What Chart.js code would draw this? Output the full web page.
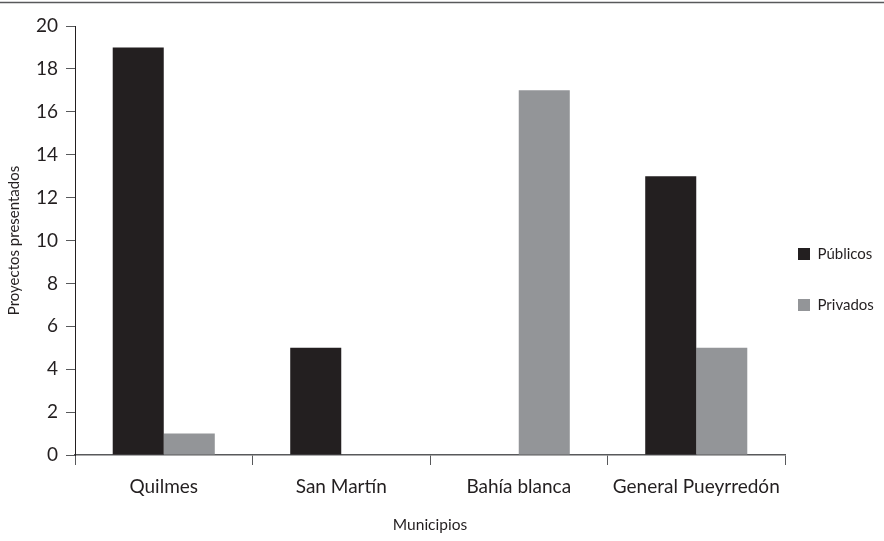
<!DOCTYPE html>
<html>
<head>
<meta charset="utf-8">
<script src="https://cdn.jsdelivr.net/npm/chart.js@4/dist/chart.umd.min.js"></script>
<style>
  html, body { margin: 0; padding: 0; background: #ffffff; }
  #wrap { width: 884px; height: 541px; }
</style>
</head>
<body>
<div id="wrap"><canvas id="chart" width="884" height="541"></canvas></div>
<script>
// Proyectos presentados por municipio
const municipios = ['Quilmes', 'San Martín', 'Bahía blanca', 'General Pueyrredón'];
const publicos = [19, 5, 0, 13];
const privados = [1, 0, 17, 5];
const yTicks = [0, 2, 4, 6, 8, 10, 12, 14, 16, 18, 20];

const FONT = 'Lato, "Open Sans", sans-serif';
const INK = '#231f20';
const AXIS = '#58595b';

// thin rule across the top of the figure
const topRule = {
  id: 'topRule',
  afterDraw(chart) {
    const ctx = chart.ctx;
    ctx.save();
    ctx.strokeStyle = '#58595b';
    ctx.lineWidth = 1.5;
    ctx.beginPath();
    ctx.moveTo(0, 2.5);
    ctx.lineTo(chart.width, 2.5);
    ctx.stroke();
    ctx.restore();
  }
};

// place the legend column just right of the plot, slightly below centre
const legendPlace = {
  id: 'legendPlace',
  afterLayout(chart) {
    const lg = chart.legend;
    if (!lg) return;
    const pad = lg.options.labels.padding;
    lg.left = chart.chartArea.right + 13 - pad;
    lg.right = chart.width;
    lg.width = lg.right - lg.left;
    lg.top -= 4;
    lg.bottom -= 4;
  }
};

new Chart(document.getElementById('chart'), {
  type: 'bar',
  data: {
    labels: municipios,
    datasets: [
      { label: 'Públicos', data: publicos, backgroundColor: INK, borderWidth: 0 },
      { label: 'Privados', data: privados, backgroundColor: '#939598', borderWidth: 0 }
    ]
  },
  options: {
    responsive: false,
    animation: false,
    devicePixelRatio: 1,
    layout: { padding: { top: 26, right: 0, bottom: 0, left: 0 } },
    datasets: { bar: { categoryPercentage: 0.575, barPercentage: 1.0 } },
    plugins: {
      tooltip: { enabled: false },
      legend: {
        position: 'right',
        align: 'center',
        maxWidth: 99,
        labels: {
          boxWidth: 12,
          boxHeight: 12,
          padding: 36,
          color: INK,
          font: { family: FONT, size: 15 }
        }
      }
    },
    scales: {
      x: {
        afterFit(scale) { scale.height = 86; },
        grid: {
          offset: true,
          drawOnChartArea: false,
          drawTicks: true,
          tickLength: 10,
          color: AXIS,
          lineWidth: 1
        },
        border: { display: true, color: AXIS, width: 1.5 },
        ticks: {
          color: INK,
          padding: 10,
          font: { family: FONT, size: 19 }
        },
        title: {
          display: true,
          text: 'Municipios',
          color: INK,
          font: { family: FONT, size: 15.5 },
          padding: { top: 4, bottom: 7 }
        }
      },
      y: {
        min: 0,
        max: 20,
        afterFit(scale) { scale.width = 75; },
        afterBuildTicks(scale) { scale.ticks = yTicks.map(v => ({ value: v })); },
        grid: {
          drawOnChartArea: false,
          drawTicks: true,
          tickLength: 9,
          color: AXIS,
          lineWidth: 1
        },
        border: { display: true, color: INK, width: 1 },
        ticks: {
          color: INK,
          padding: 8,
          font: { family: FONT, size: 19 }
        },
        title: {
          display: true,
          text: 'Proyectos presentados',
          color: INK,
          font: { family: FONT, size: 15 },
          padding: { top: 5, bottom: 4 }
        }
      }
    }
  },
  plugins: [topRule, legendPlace]
});
</script>
</body>
</html>
